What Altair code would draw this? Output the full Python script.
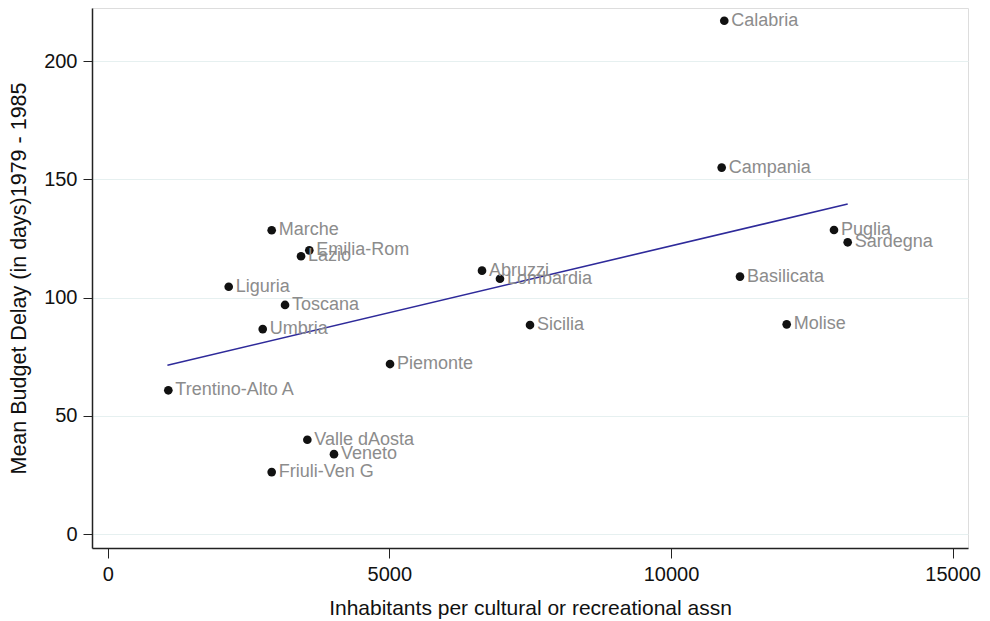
import altair as alt
import pandas as pd

regions = ["Calabria", "Campania", "Puglia", "Sardegna", "Basilicata", "Molise",
           "Sicilia", "Abruzzi", "Lombardia", "Piemonte", "Marche", "Emilia-Rom",
           "Lazio", "Liguria", "Toscana", "Umbria", "Trentino-Alto A",
           "Valle dAosta", "Veneto", "Friuli-Ven G"]
inhabitants = [10946, 10900, 12894, 13137, 11225, 12054,
               7497, 6645, 6964, 5012, 2911, 3579,
               3432, 2148, 3148, 2752, 1076,
               3544, 4017, 2911]
delay = [217.1, 155.0, 128.6, 123.4, 108.9, 88.7,
         88.4, 111.4, 108.0, 71.9, 128.5, 120.0,
         117.5, 104.6, 96.9, 86.7, 60.8,
         39.9, 33.8, 26.2]

fit_x = [1060, 13137]
fit_y = [71.4, 139.6]

x_ticks = [0, 5000, 10000, 15000]
y_ticks = [0, 50, 100, 150, 200]

df = pd.DataFrame({"region": regions, "x": inhabitants, "y": delay})
fit = pd.DataFrame({"x": fit_x, "y": fit_y})

FONT = "Liberation Sans"

xscale = alt.Scale(domain=[-279, 15273], nice=False, zero=False)
yscale = alt.Scale(domain=[-5.9, 222.5], nice=False, zero=False)

xaxis = alt.Axis(values=x_ticks, format="d",
                 title="Inhabitants per cultural or recreational assn",
                 grid=False, labelFontSize=20, titleFontSize=21, labelFont=FONT,
                 titleFont=FONT, titleFontWeight="normal", labelColor="#111",
                 titleColor="#111", domainColor="#222", tickColor="#222",
                 tickSize=10, labelPadding=6, titlePadding=13, domainWidth=1.5,
                 labelOverlap=False, labelBound=False, labelFlush=False)
yaxis = alt.Axis(values=y_ticks, format="d",
                 title="Mean Budget Delay (in days)1979 - 1985",
                 grid=True, gridColor="#e6f0f0", gridWidth=1,
                 labelFontSize=20, titleFontSize=21.5, labelFont=FONT,
                 titleFont=FONT, titleFontWeight="normal", labelColor="#111",
                 titleColor="#111", domainColor="#222", tickColor="#222",
                 tickSize=9, labelPadding=6, titlePadding=13, domainWidth=1.5,
                 labelOverlap=False)

points = alt.Chart(df).mark_circle(size=75, color="#111", opacity=1).encode(
    x=alt.X("x:Q", scale=xscale, axis=xaxis),
    y=alt.Y("y:Q", scale=yscale, axis=yaxis),
)

labels = alt.Chart(df).mark_text(align="left", baseline="middle", dx=7,
                                 fontSize=18, font=FONT, color="#8c8c8c").encode(
    x=alt.X("x:Q", scale=xscale),
    y=alt.Y("y:Q", scale=yscale),
    text="region:N",
)

line = alt.Chart(fit).mark_line(color="#2e2a9a", strokeWidth=1.6).encode(
    x=alt.X("x:Q", scale=xscale),
    y=alt.Y("y:Q", scale=yscale),
)

chart = alt.layer(line, points, labels).properties(
    width=876, height=540,
    autosize=alt.AutoSizeParams(type="none"),
    padding={"left": 84, "top": 0, "right": 14, "bottom": 72},
).configure_view(stroke=None).configure(background="white")

chart.save("out.html", embed_options={"renderer": "svg", "actions": False})
